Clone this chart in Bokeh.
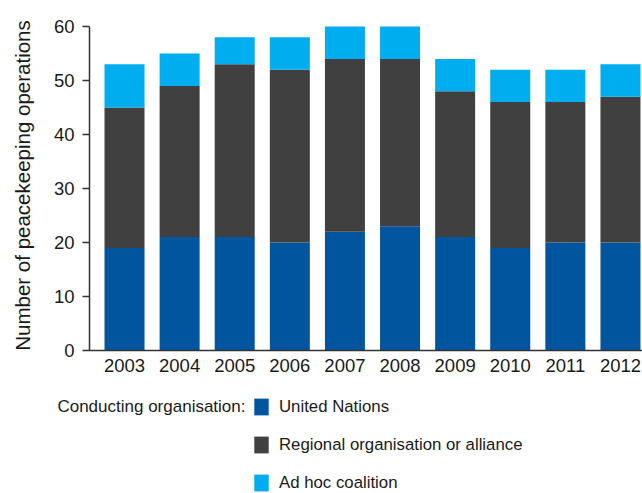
import math
from bokeh.plotting import figure
from bokeh.models import ColumnDataSource, Legend, LegendItem, Label, FixedTicker, Range1d
from bokeh.embed import file_html
from bokeh.resources import INLINE

years = [2003, 2004, 2005, 2006, 2007, 2008, 2009, 2010, 2011, 2012]
united_nations = [19, 21, 21, 20, 22, 23, 21, 19, 20, 20]
regional = [26, 28, 32, 32, 32, 31, 27, 27, 26, 27]
ad_hoc = [8, 6, 5, 6, 6, 6, 6, 6, 6, 6]
series_names = ["United Nations", "Regional organisation or alliance", "Ad hoc coalition"]
series_colors = ["#00559f", "#404040", "#00adee"]
y_ticks = [0, 10, 20, 30, 40, 50, 60]
y_label = "Number of peacekeeping operations"
legend_title = "Conducting organisation:"

FONT = "Liberation Sans"
TXT = "#1a1a1a"

# layout: 55.1 px per year, 5.4 px per unit; the frame covers the whole canvas
# so that the axis texts and the legend outside the bars are not clipped
X_START, X_END = 2000.7495, 2012.40
Y_AXIS_AT = 2002.365          # where the vertical axis line sits
Y_START, Y_END = -26.48, 64.815

source = ColumnDataSource(dict(year=years, un=united_nations, reg=regional, adhoc=ad_hoc))

p = figure(width=642, height=493,
           x_range=Range1d(X_START, X_END), y_range=Range1d(Y_START, Y_END),
           output_backend="svg", toolbar_location=None,
           min_border_left=0, min_border_right=0, min_border_top=0, min_border_bottom=0)

renderers = p.vbar_stack(["un", "reg", "adhoc"], x="year", width=0.726,
                         fill_color=series_colors, line_color=None, source=source)

p.outline_line_color = None
p.xgrid.grid_line_color = None
p.ygrid.grid_line_color = None

p.xaxis.fixed_location = 0
p.xaxis.bounds = (Y_AXIS_AT, X_END)
p.yaxis.fixed_location = Y_AXIS_AT
p.yaxis.bounds = (0, 60)
p.yaxis.ticker = FixedTicker(ticks=y_ticks)
p.xaxis.ticker = FixedTicker(ticks=years)
for ax in (p.xaxis[0], p.yaxis[0]):
    ax.axis_line_color = "#333333"
    ax.axis_line_width = 1.5
    ax.major_label_text_font = FONT
    ax.major_label_text_font_size = "18.5px"
    ax.major_label_text_color = TXT
    ax.minor_tick_line_color = None
    ax.major_tick_in = 0

p.yaxis.major_tick_out = 7
p.yaxis.major_tick_line_width = 1.5
p.yaxis.major_tick_line_color = "#333333"
p.yaxis.major_label_standoff = 8
p.xaxis.major_tick_line_color = None
p.xaxis.major_tick_out = 0
p.xaxis.major_label_standoff = 8

axis_title = Label(x=22, y=308, x_units="screen", y_units="screen", angle=math.pi / 2,
                   text=y_label, text_align="center", text_baseline="middle",
                   text_font=FONT, text_font_size="20.5px", text_color=TXT)
p.add_layout(axis_title)

legend = Legend(
    items=[LegendItem(label=n, renderers=[r]) for n, r in zip(series_names, renderers)],
    location=(252, 0), orientation="vertical",
    glyph_width=18, glyph_height=21, label_height=21, spacing=17,
    label_standoff=9, padding=0, margin=0,
    border_line_color=None, background_fill_alpha=0,
    label_text_font=FONT, label_text_font_size="16.8px", label_text_color=TXT,
)
p.add_layout(legend, "center")

title_label = Label(x=245, y=87, x_units="screen", y_units="screen",
                    text=legend_title, text_align="right", text_baseline="middle",
                    text_font=FONT, text_font_size="17px", text_color=TXT)
p.add_layout(title_label)

open("out.html", "w").write(file_html(p, INLINE))
